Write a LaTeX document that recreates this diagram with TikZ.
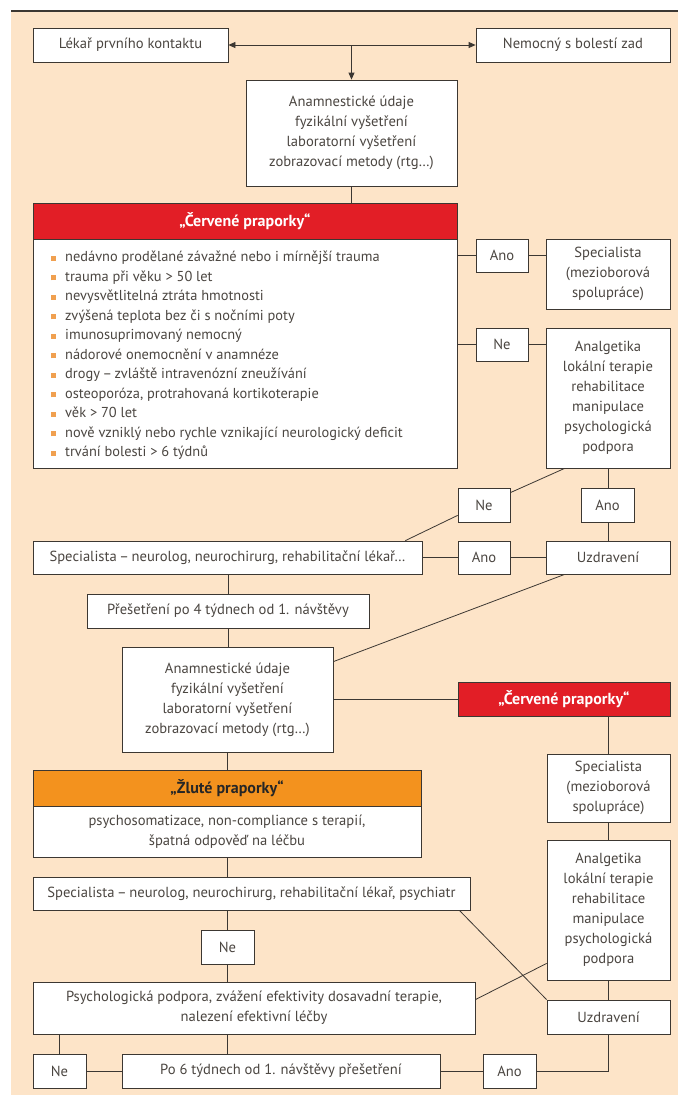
\documentclass[tikz,border=0pt]{standalone}
\usepackage{fontspec}
\setmainfont{PT Sans}
\usetikzlibrary{arrows.meta,calc}
\definecolor{peach}{RGB}{253,228,200}
\definecolor{redh}{RGB}{226,30,38}
\definecolor{orangeh}{RGB}{243,146,30}
\definecolor{linec}{RGB}{60,55,50}
\definecolor{textc}{RGB}{75,70,65}
\definecolor{bulletc}{RGB}{240,160,80}
\newcommand{\blt}{\makebox[14pt][l]{\textcolor{bulletc}{\rule[1pt]{5pt}{5pt}}}}
\newcommand{\ndash}{\hspace{0.18em}–\hspace{0.18em}}
\begin{document}
\begin{tikzpicture}[x=1pt,y=-1pt,
  box/.style={draw=linec, fill=white, line width=0.8pt, inner sep=0pt, align=center, text=textc, font=\fontsize{14.6}{20}\selectfont},
  conn/.style={draw=linec, line width=0.8pt},
  arr/.style={conn, -{Triangle[length=7pt,width=6pt]}},
  redbox/.style={box, fill=redh, text=white, font=\fontsize{16}{20}\selectfont\bfseries},
  orbox/.style={box, fill=orangeh, text=black!85, font=\fontsize{16}{20}\selectfont\bfseries}
]
\useasboundingbox (0,0) rectangle (678,1098);
\fill[white] (0,0) rectangle (678,1098);
\fill[peach] (11,12) rectangle (678,1095);
\draw[linec, line width=1.2pt] (11,11) -- (678,11);

% top row
\node[box, minimum width=195, minimum height=34] (lekar) at (130.5,45) {Lékař prvního kontaktu};
\node[box, minimum width=194, minimum height=34] (nemocny) at (573,45) {Nemocný s bolestí zad};
\node[box, minimum width=211, minimum height=106] (anam1) at (351.5,133) {Anamnestické údaje\\fyzikální vyšetření\\laboratorní vyšetření\\zobrazovací metody (rtg…)};

% red flags block
\node[redbox, minimum width=424, minimum height=36] (red1) at (245,221) {„Červené praporky“};
\node[box, minimum width=424, minimum height=229] (redlist) at (245,353.5) {};
\node[anchor=west, inner sep=0pt, align=left, text=textc, font=\fontsize{14.4}{19.5}\selectfont] (listtext) at (51,355.5)
{\blt nedávno prodělané závažné nebo i mírnější trauma\\
\blt trauma při věku > 50 let\\
\blt nevysvětlitelná ztráta hmotnosti\\
\blt zvýšená teplota bez či s nočními poty\\
\blt imunosuprimovaný nemocný\\
\blt nádorové onemocnění v anamnéze\\
\blt drogy\ndash zvláště intravenózní zneužívání\\
\blt osteoporóza, protrahovaná kortikoterapie\\
\blt věk > 70 let\\
\blt nově vzniklý nebo rychle vznikající neurologický deficit\\
\blt trvání bolesti > 6 týdnů};

\node[box, minimum width=52, minimum height=33] (ano1) at (502,255.5) {Ano};
\node[box, minimum width=124, minimum height=70] (spec1) at (608,274) {Specialista\\(mezioborová\\spolupráce)};
\node[box, minimum width=52, minimum height=33] (ne1) at (502,344.5) {Ne};
\node[box, minimum width=124, minimum height=140] (analg1) at (608,398) {Analgetika\\lokální terapie\\rehabilitace\\manipulace\\psychologická\\podpora};

\node[box, minimum width=52, minimum height=34] (ne2) at (484,505) {Ne};
\node[box, minimum width=53, minimum height=34] (ano2) at (607.5,505) {Ano};

\node[box, minimum width=389, minimum height=33] (specA) at (227.5,557.5) {Specialista\ndash neurolog, neurochirurg, rehabilitační lékař…};
\node[box, minimum width=52, minimum height=33] (ano3) at (484,557.5) {Ano};
\node[box, minimum width=124, minimum height=33] (uzdr1) at (608,557.5) {Uzdravení};

\node[box, minimum width=282, minimum height=34] (prese) at (228,611) {Přešetření po 4 týdnech od 1. návštěvy};
\node[box, minimum width=211, minimum height=105] (anam2) at (227.5,699.5) {Anamnestické údaje\\fyzikální vyšetření\\laboratorní vyšetření\\zobrazovací metody (rtg…)};
\node[redbox, minimum width=212, minimum height=34] (red2) at (564,699) {„Červené praporky“};
\node[box, minimum width=123, minimum height=68] (spec2) at (608.5,788) {Specialista\\(mezioborová\\spolupráce)};

\node[orbox, minimum width=388, minimum height=36] (yel) at (227,788) {„Žluté praporky“};
\node[box, minimum width=388, minimum height=51] (yelbody) at (227,831.5) {psychosomatizace, non-compliance s terapií,\\špatná odpověď na léčbu};

\node[box, minimum width=123, minimum height=140] (analg2) at (608.5,910) {Analgetika\\lokální terapie\\rehabilitace\\manipulace\\psychologická\\podpora};
\node[box, minimum width=437, minimum height=33] (specB) at (251.5,893.5) {Specialista\ndash neurolog, neurochirurg, rehabilitační lékař, psychiatr};
\node[box, minimum width=53, minimum height=34] (ne3) at (227.5,947) {Ne};
\node[box, minimum width=442, minimum height=52] (psych) at (254,1008) {Psychologická podpora, zvážení efektivity dosavadní terapie,\\nalezení efektivní léčby};
\node[box, minimum width=123, minimum height=34] (uzdr2) at (608.5,1017) {Uzdravení};
\node[box, minimum width=53, minimum height=34] (ne4) at (59.5,1071) {Ne};
\node[box, minimum width=318, minimum height=34] (po6) at (281,1071) {Po 6 týdnech od 1. návštěvy přešetření};
\node[box, minimum width=53, minimum height=34] (ano4) at (509.5,1071) {Ano};

% connectors
\coordinate (j1) at (anam1.north |- lekar.east);
\draw[arr] (j1) -- (lekar.east);
\draw[arr] (j1) -- (nemocny.west);
\draw[arr] (j1) -- (anam1.north);
\draw[conn] (anam1.south) -- (anam1.south |- red1.north);
\draw[conn] (redlist.east |- ano1.west) -- (ano1.west);
\draw[conn] (ano1.east) -- (ano1.east -| spec1.west);
\draw[conn] (redlist.east |- ne1.west) -- (ne1.west);
\draw[conn] (ne1.east) -- (ne1.east -| analg1.west);
\draw[conn] ($(analg1.south west)+(19,0)$) -- ($(ne2.north east)+(0,5)$);
\draw[conn] ($(ne2.south west)+(0,-7)$) -- ($(specA.north east)+(-17,0)$);
\draw[conn] (ano2.north -| analg1.south) -- (analg1.south);
\draw[conn] (ano2.south -| uzdr1.north) -- (uzdr1.north);
\draw[conn] (specA.east) -- (ano3.west);
\draw[conn] (ano3.east) -- (uzdr1.west);
\draw[conn] (prese.north |- specA.south) -- (prese.north);
\draw[conn] (prese.south) -- (prese.south |- anam2.north);
\draw[conn] ($(uzdr1.south west)+(19,0)$) -- ($(anam2.north east)+(0,15)$);
\draw[conn] (anam2.east) -- (anam2.east -| red2.west);
\draw[conn] (spec2.north |- red2.south) -- (spec2.north);
\draw[conn] (spec2.south) -- (spec2.south |- analg2.north);
\draw[conn] (anam2.south) -- (anam2.south |- yel.north);
\draw[conn] (ne3.north |- yelbody.south) -- (ne3.north |- specB.north);
\draw[conn] (ne3.north |- specB.south) -- (ne3.north);
\draw[conn] (ne3.south) -- (ne3.south |- psych.north);
\draw[conn] ($(specB.south east)+(-11,0)$) -- (uzdr2.north west);
\draw[conn] ($(psych.north east)+(0,18)$) -- ($(analg2.south west)+(0,-17)$);
\draw[conn] (analg2.south) -- (analg2.south |- uzdr2.north);
\draw[conn] (ne4.north |- psych.south) -- (ne4.north);
\draw[conn] (ne3.south |- psych.south) -- (ne3.south |- po6.north);
\draw[conn] (ne4.east) -- (po6.west);
\draw[conn] (po6.east) -- (ano4.west);
\draw[conn] (ano4.east) -- (ano4.east -| uzdr2.south) -- (uzdr2.south);
\end{tikzpicture}
\end{document}
